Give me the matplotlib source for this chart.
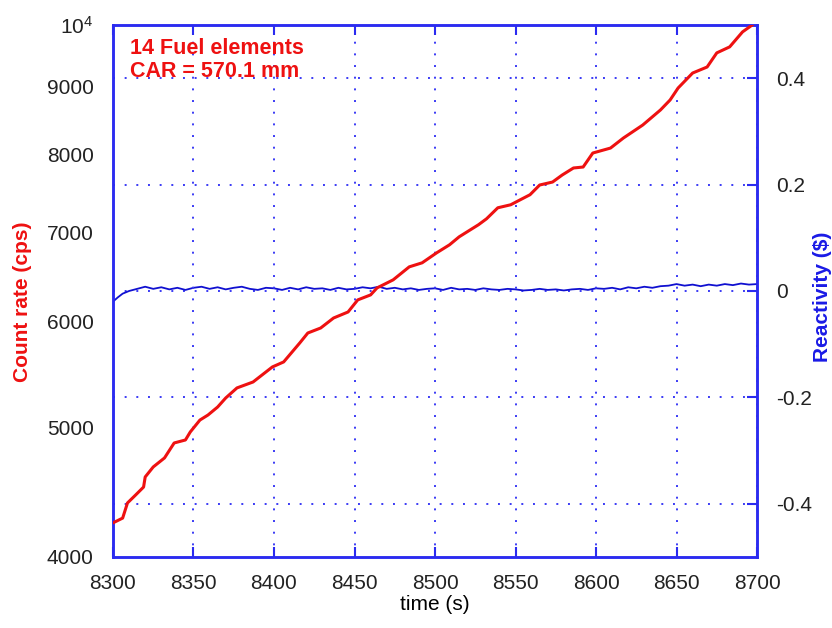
import matplotlib
matplotlib.use("Agg")
import matplotlib.pyplot as plt

plt.rcParams['font.family'] = ['Liberation Sans', 'DejaVu Sans']
plt.rcParams['axes.unicode_minus'] = False

# count rate (cps)
t_count = [8300, 8306, 8309, 8314, 8319, 8320, 8325, 8332, 8338, 8345, 8348, 8354,
           8359, 8365, 8370, 8377, 8387, 8399, 8406, 8416, 8421, 8429, 8437, 8446,
           8452, 8460, 8464, 8474, 8484, 8492, 8501, 8509, 8515, 8522, 8527, 8532,
           8539, 8547, 8553, 8559, 8565, 8573, 8579, 8586, 8592, 8598, 8609, 8617,
           8629, 8640, 8646, 8651, 8660, 8669, 8675, 8683, 8691, 8697]
count = [4242, 4277, 4390, 4450, 4512, 4591, 4671, 4744, 4868, 4893, 4961, 5064,
         5108, 5179, 5260, 5352, 5407, 5549, 5597, 5783, 5883, 5934, 6037, 6100,
         6228, 6282, 6358, 6447, 6593, 6639, 6754, 6848, 6943, 7028, 7089, 7162,
         7299, 7337, 7401, 7465, 7591, 7630, 7723, 7817, 7830, 8021, 8090, 8231,
         8417, 8638, 8788, 8972, 9206, 9302, 9531, 9630, 9882, 10000]

# reactivity ($)
t_rho = [8300, 8303, 8306, 8310, 8315, 8320, 8325, 8330, 8335, 8340, 8345, 8350,
         8355, 8360, 8365, 8370, 8375, 8380, 8385, 8390, 8395, 8400, 8405, 8410,
         8415, 8420, 8425, 8430, 8435, 8440, 8445, 8450, 8455, 8460, 8465, 8470,
         8475, 8480, 8485, 8490, 8495, 8500, 8505, 8510, 8515, 8520, 8525, 8530,
         8535, 8540, 8545, 8550, 8555, 8560, 8565, 8570, 8575, 8580, 8585, 8590,
         8595, 8600, 8605, 8610, 8615, 8620, 8625, 8630, 8635, 8640, 8645, 8650,
         8655, 8660, 8665, 8670, 8675, 8680, 8685, 8690, 8695, 8700]
rho = [-0.020, -0.012, -0.005, 0.000, 0.004, 0.008, 0.004, 0.007, 0.003, 0.006, 0.002, 0.006,
       0.008, 0.004, 0.007, 0.003, 0.006, 0.008, 0.004, 0.002, 0.006, 0.005, 0.002, 0.006,
       0.003, 0.007, 0.004, 0.005, 0.002, 0.006, 0.003, 0.004, 0.007, 0.005, 0.008, 0.004,
       0.006, 0.003, 0.005, 0.002, 0.004, 0.005, 0.002, 0.006, 0.003, 0.004, 0.002, 0.005,
       0.003, 0.002, 0.004, 0.003, 0.001, 0.002, 0.004, 0.002, 0.003, 0.001, 0.003, 0.004,
       0.002, 0.005, 0.004, 0.006, 0.003, 0.007, 0.005, 0.008, 0.006, 0.009, 0.010, 0.013,
       0.010, 0.012, 0.009, 0.012, 0.010, 0.013, 0.011, 0.014, 0.012, 0.013]

x_ticks = [8300, 8350, 8400, 8450, 8500, 8550, 8600, 8650, 8700]
count_ticks = [4000, 5000, 6000, 7000, 8000, 9000, 10000]
count_labels = ['4000', '5000', '6000', '7000', '8000', '9000', r'$\mathregular{10^4}$']
rho_ticks = [-0.4, -0.2, 0, 0.2, 0.4]
rho_labels = ['-0.4', '-0.2', '0', '0.2', '0.4']

frame = '#2b2bf0'
grid_c = '#3a3af5'
fs = 15

fig = plt.figure(figsize=(8.32, 6.28), dpi=100)
ax = fig.add_axes([0.1358, 0.1131, 0.7741, 0.8471])
ax2 = ax.twinx()

ax.set_yscale('log')
ax.set_xlim(8300, 8700)
ax.set_ylim(4000, 10000)
ax.set_xticks(x_ticks)
ax.set_yticks(count_ticks)
ax.set_yticklabels(count_labels)
ax.minorticks_off()
ax.tick_params(axis='x', direction='in', length=7, width=1.5, color=frame,
               top=True, labelsize=fs, pad=12, labelcolor='#222222')
ax.tick_params(axis='y', length=0, labelsize=fs, pad=14, labelcolor='#222222')
ax.grid(axis='x', color=grid_c, linestyle=(0, (1, 5)), linewidth=1.4)

ax2.set_ylim(-0.5, 0.5)
ax2.set_yticks(rho_ticks)
ax2.set_yticklabels(rho_labels)
ax2.tick_params(axis='y', direction='in', length=7, width=1.5, color=frame,
                labelsize=fs, pad=14, labelcolor='#222222')
ax2.grid(axis='y', color=grid_c, linestyle=(0, (1, 5)), linewidth=1.4)

for a in (ax, ax2):
    for s in a.spines.values():
        s.set_color(frame)
        s.set_linewidth(1.8)

ax2.plot(t_rho, rho, color='#1010d0', linewidth=1.3, zorder=3)
ax.plot(t_count, count, color='#ee1111', linewidth=2.2, zorder=4)
ax.set_zorder(ax2.get_zorder() + 1)
ax.patch.set_visible(False)

ax.set_xlabel('time (s)', fontsize=fs, labelpad=2)
ax.set_ylabel('Count rate (cps)', fontsize=fs, color='#ee1111', fontweight='bold')
ax.yaxis.set_label_coords(-0.126, 0.48)
ax2.set_ylabel('Reactivity (\\$)', fontsize=fs, color='#1a1ae6', fontweight='bold')
ax2.yaxis.set_label_coords(1.087, 0.489)

ax.text(0.026, 0.976, '14 Fuel elements\nCAR = 570.1 mm', transform=ax.transAxes,
        ha='left', va='top', fontsize=15.5, fontweight='bold', color='#ee1111',
        linespacing=1.15)

fig.savefig('out.png', dpi=100)
